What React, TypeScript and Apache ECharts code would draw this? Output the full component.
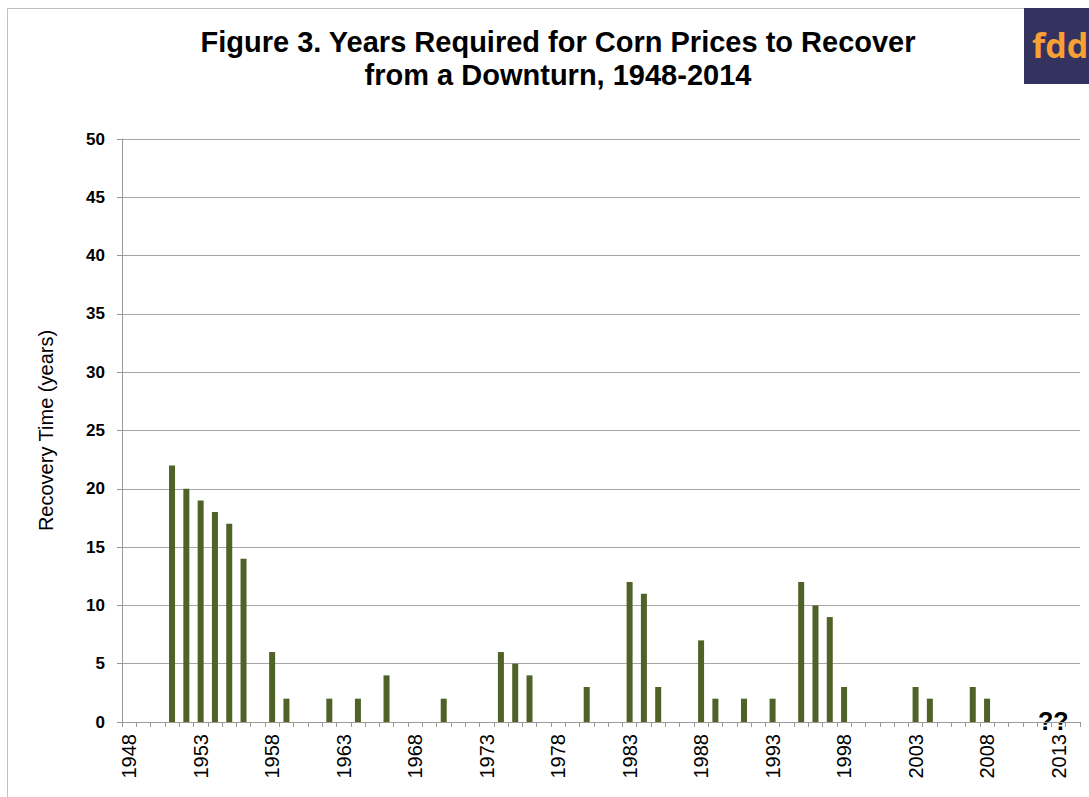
import React, { useEffect, useRef } from "react";
import * as echarts from "echarts";

const years: string[] = [];
for (let y = 1948; y <= 2014; y++) years.push(String(y));

const recoveryYears: Record<string, number> = {
  "1951": 22, "1952": 20, "1953": 19, "1954": 18, "1955": 17, "1956": 14,
  "1958": 6, "1959": 2, "1962": 2, "1964": 2, "1966": 4, "1970": 2,
  "1974": 6, "1975": 5, "1976": 4, "1980": 3, "1983": 12, "1984": 11, "1985": 3,
  "1988": 7, "1989": 2, "1991": 2, "1993": 2,
  "1995": 12, "1996": 10, "1997": 9, "1998": 3,
  "2003": 3, "2004": 2, "2007": 3, "2008": 2,
};

const values = years.map((y) => (recoveryYears[y] !== undefined ? recoveryYears[y] : null));

const yTicks = [0, 5, 10, 15, 20, 25, 30, 35, 40, 45, 50];

export default function App() {
  const ref = useRef<HTMLDivElement>(null);
  useEffect(() => {
    if (!ref.current) return;
    const chart = echarts.init(ref.current, null, { renderer: "svg" });
    chart.setOption({
      animation: false,
      backgroundColor: "#ffffff",
      textStyle: { fontFamily: "Liberation Sans, Arial, sans-serif" },
      title: {
        text: "Figure 3. Years Required for Corn Prices to Recover\nfrom a Downturn, 1948-2014",
        left: 553,
        top: 20,
        textAlign: "center",
        textStyle: {
          fontSize: 29,
          fontWeight: "bold",
          color: "#000",
          lineHeight: 33,
          fontFamily: "Liberation Sans, Arial, sans-serif",
        },
      },
      graphic: [
        {
          type: "rect",
          shape: { x: 7.5, y: 8.5, width: 1100, height: 800 },
          style: { fill: "none", stroke: "#c0c0c0", lineWidth: 1 },
          silent: true,
        },
        {
          type: "rect",
          shape: { x: 1024, y: 8, width: 70, height: 76 },
          style: { fill: "#34335f" },
        },
        {
          type: "text",
          x: 1032,
          y: 28,
          style: {
            text: "fdd",
            fill: "#f8a033",
            font: "bold 34px 'Open Sans', sans-serif",
          },
        },
        {
          type: "text",
          x: 1038,
          y: 708,
          style: {
            text: "??",
            fill: "#000",
            font: "bold 25px 'Liberation Sans', Arial, sans-serif",
          },
        },
      ],
      grid: { left: 122, right: 9, top: 139, bottom: 75, containLabel: false },
      xAxis: {
        type: "category",
        data: years,
        boundaryGap: true,
        axisLine: { show: true, lineStyle: { color: "#999999", width: 1 } },
        axisTick: { show: true, interval: 0, length: 5, lineStyle: { color: "#999999" } },
        axisLabel: {
          interval: 4,
          rotate: 90,
          fontSize: 20,
          color: "#000",
          margin: 12,
        },
        splitLine: { show: false },
      },
      yAxis: {
        type: "value",
        min: 0,
        max: 50,
        interval: 5,
        name: "Recovery Time (years)",
        nameLocation: "middle",
        nameGap: 66,
        nameRotate: 90,
        nameTextStyle: { fontSize: 20, color: "#000" },
        axisLine: { show: true, lineStyle: { color: "#999999", width: 1 } },
        axisTick: { show: true, length: 5, lineStyle: { color: "#999999" } },
        axisLabel: {
          fontSize: 17,
          fontWeight: "bold",
          color: "#000",
          margin: 17,
          formatter: (v: number) => (yTicks.indexOf(v) >= 0 ? String(v) : ""),
        },
        splitLine: { show: true, lineStyle: { color: "#a6a6a6", width: 1 } },
      },
      series: [
        {
          type: "bar",
          data: values,
          barWidth: 6,
          itemStyle: { color: "#4f6228" },
        },
      ],
    });
    return () => chart.dispose();
  }, []);
  return (
    <div
      ref={ref}
      style={{ position: "absolute", left: 0, top: 0, width: 1089, height: 797 }}
    />
  );
}
